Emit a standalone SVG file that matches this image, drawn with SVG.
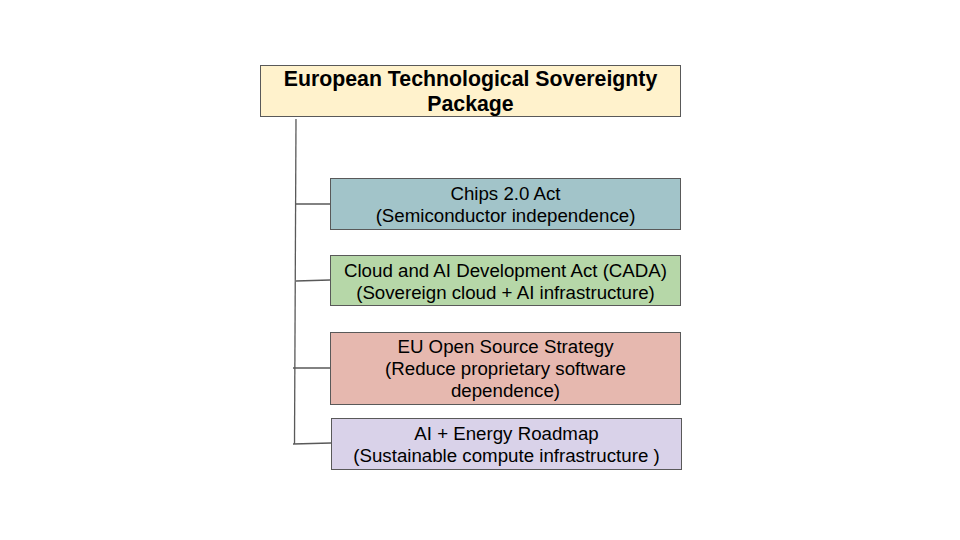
<svg xmlns="http://www.w3.org/2000/svg" width="960" height="540" viewBox="0 0 960 540">
<style>
.box{stroke:#595959;stroke-width:1}
.t{font-family:"Liberation Sans",Arial,sans-serif;font-size:18.7px;fill:#000;text-anchor:middle}
.h{font-family:"Liberation Sans",Arial,sans-serif;font-size:21.3px;font-weight:bold;fill:#000;text-anchor:middle}
.c{stroke:#595959;stroke-width:1.3;fill:none}
</style>
<rect width="960" height="540" fill="#fff"/>
<g id="connectors">
<path class="c" d="M296,119 L294.5,444"/>
<path class="c" d="M296,204 L330,204"/>
<path class="c" d="M296,281 L330,280"/>
<path class="c" d="M293,368 L330,368"/>
<path class="c" d="M293,444 L331,443"/>
</g>
<g id="root">
<rect class="box" x="260.5" y="65.5" width="420" height="51" fill="#fff2cc"/>
<text class="h" x="470.5" y="86">European Technological Sovereignty</text>
<text class="h" x="470.5" y="111">Package</text>
</g>
<g id="chips">
<rect class="box" x="330.5" y="178.5" width="350" height="51" fill="#a2c4c9"/>
<text class="t" x="505.5" y="200">Chips 2.0 Act</text>
<text class="t" x="505.5" y="222">(Semiconductor independence)</text>
</g>
<g id="cada">
<rect class="box" x="330.5" y="255.5" width="350" height="50" fill="#b6d7a8"/>
<text class="t" x="505.5" y="277">Cloud and AI Development Act (CADA)</text>
<text class="t" x="505.5" y="299">(Sovereign cloud + AI infrastructure)</text>
</g>
<g id="oss">
<rect class="box" x="330.5" y="332.5" width="350" height="72" fill="#e6b8af"/>
<text class="t" x="505.5" y="353">EU Open Source Strategy</text>
<text class="t" x="505.5" y="375">(Reduce proprietary software</text>
<text class="t" x="505.5" y="397">dependence)</text>
</g>
<g id="energy">
<rect class="box" x="331.5" y="418.5" width="350" height="51" fill="#d9d2e9"/>
<text class="t" x="506.5" y="440">AI + Energy Roadmap</text>
<text class="t" x="506.5" y="462">(Sustainable compute infrastructure )</text>
</g>
</svg>
